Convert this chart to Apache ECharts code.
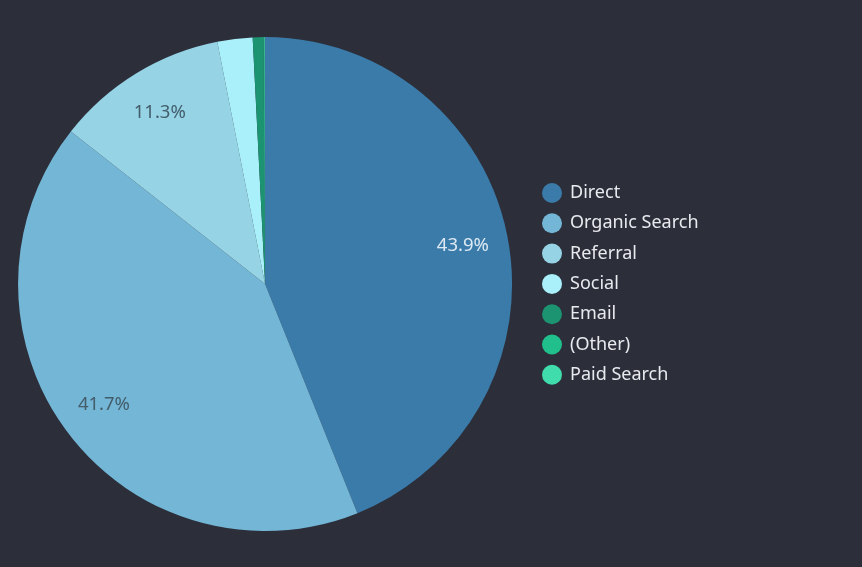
<!DOCTYPE html>
<html>
<head>
<meta charset="utf-8">
<script src="https://cdn.jsdelivr.net/npm/echarts@6/dist/echarts.min.js"></script>
<style>
  html, body { margin: 0; padding: 0; background: #2c2f3a; }
  #chart { width: 862px; height: 567px; }
</style>
</head>
<body>
<div id="chart"></div>
<script>
// 渠道名称和占比（%）
const channels = ['Direct', 'Organic Search', 'Referral', 'Social', 'Email', '(Other)', 'Paid Search'];
const shares = [43.9, 41.7, 11.3, 2.3, 0.7, 0.05, 0.05];
const colors = ['#3b7baa', '#74b6d6', '#95d3e5', '#aaf0fb', '#1c9371', '#21bf8c', '#40dcab'];
// 标签文字颜色：深色扇区用浅色字，浅色扇区用深色字
const labelColors = ['#dde9f3', '#435d6b', '#435d6b', '#435d6b', '#435d6b', '#435d6b', '#435d6b'];

const pieData = channels.map((name, i) => ({ name: name, value: shares[i] }));

const chart = echarts.init(document.getElementById('chart'));

const center = ['30.75%', '50.1%'];

const option = {
    backgroundColor: '#2c2f3a',
    color: colors,
    animation: false,
    legend: {
        orient: 'vertical',
        left: 542,
        top: 183,
        padding: 0,
        icon: 'circle',
        itemWidth: 20,
        itemHeight: 20,
        itemGap: 10.3,
        textStyle: {
            color: '#e8eaee',
            fontSize: 18,
            fontFamily: 'Noto Sans',
            padding: [0, 0, 0, 3]
        },
        data: channels
    },
    series: [
        {
            // 主饼图
            type: 'pie',
            center: center,
            radius: 247,
            startAngle: 90,
            clockwise: true,
            label: { show: false },
            labelLine: { show: false },
            itemStyle: { borderWidth: 0 },
            data: pieData
        },
        {
            // 透明环，只用来把百分比标签放在靠外的位置
            type: 'pie',
            center: center,
            radius: [150, 247],
            startAngle: 90,
            clockwise: true,
            silent: true,
            legendHoverLink: false,
            itemStyle: { color: 'rgba(0,0,0,0)', borderWidth: 0 },
            label: {
                show: true,
                position: 'inside',
                fontSize: 18.5,
                fontFamily: 'Noto Sans',
                formatter: p => (p.percent >= 5 ? p.percent.toFixed(1) + '%' : '')
            },
            labelLine: { show: false },
            data: pieData.map((d, i) => ({
                name: d.name + ' ',
                value: d.value,
                label: { color: labelColors[i] }
            }))
        }
    ]
};

chart.setOption(option);
</script>
</body>
</html>
